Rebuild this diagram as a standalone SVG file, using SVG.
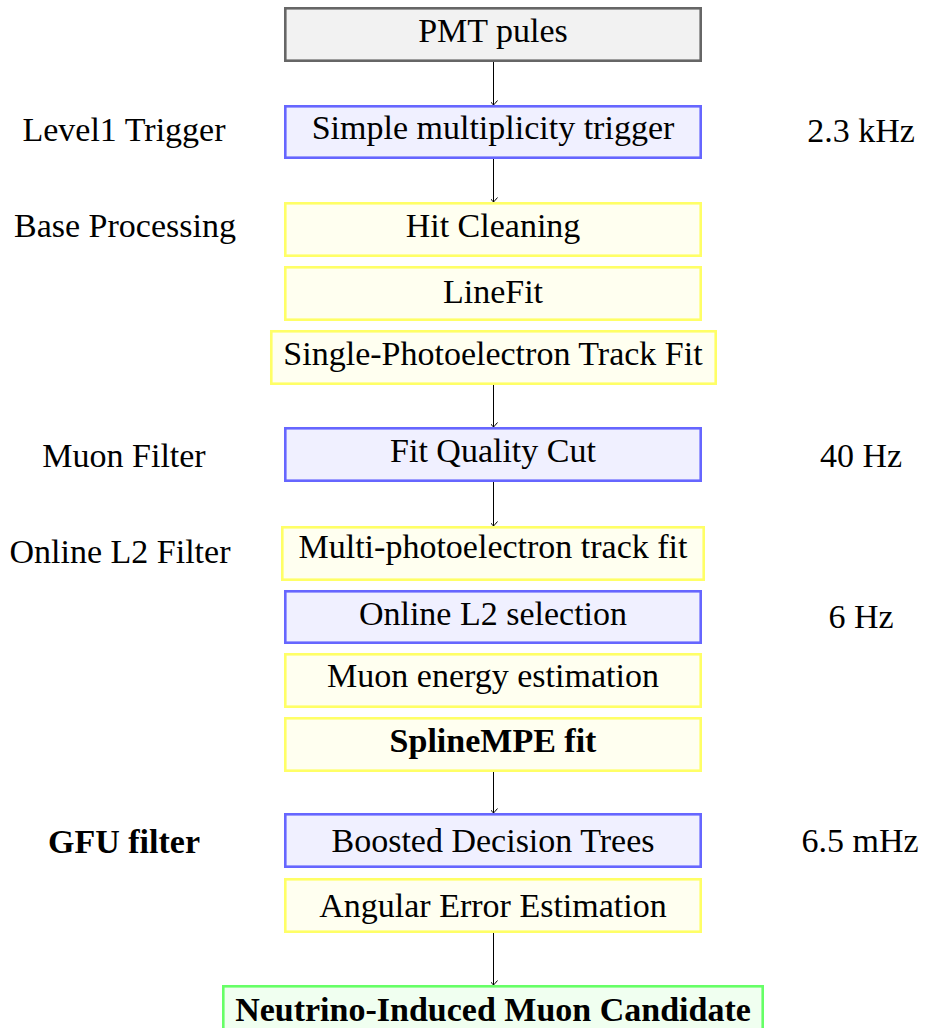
<svg xmlns="http://www.w3.org/2000/svg" width="925" height="1028" viewBox="0 0 925 1028">
<style>
text{font-family:"Liberation Serif","Times New Roman",serif;font-size:34px;fill:#000;text-anchor:middle}
.b{font-weight:bold}
rect{stroke-width:2.6}
.grey{fill:#f2f2f2;stroke:#666666}
.blue{fill:#f0f0ff;stroke:#6666ff}
.yel{fill:#fffff0;stroke:#ffff66}
.grn{fill:#f0fff0;stroke:#66ff66}
.conn line{stroke:#000;stroke-width:1;marker-end:url(#tip)}
</style>
<defs>
<marker id="tip" markerUnits="userSpaceOnUse" markerWidth="12" markerHeight="10" viewBox="-6 -6 12 8" refX="0" refY="0" orient="auto">
<path d="M-4.5,-4 Q-1.5,-1.5 0,0 Q-1.5,1.5 -4.5,4" fill="none" stroke="#000" stroke-width="1"/>
</marker>
</defs>
<rect width="925" height="1028" fill="#fff"/>
<g id="labels-left">
<text x="124" y="141">Level1 Trigger</text>
<text x="125" y="237">Base Processing</text>
<text x="124" y="467">Muon Filter</text>
<text x="120" y="563">Online L2 Filter</text>
<text x="124" y="853" class="b">GFU filter</text>
</g>
<g id="labels-right">
<text x="861" y="142">2.3 kHz</text>
<text x="861" y="467">40 Hz</text>
<text x="861" y="628">6 Hz</text>
<text x="860" y="852">6.5 mHz</text>
</g>
<g id="pmt"><rect class="grey" x="285.3" y="8.3" width="415.4" height="52.4"/><text x="493" y="42">PMT pules</text></g>
<g id="l1"><rect class="blue" x="285.3" y="106.3" width="415.4" height="51.4"/><text x="493" y="139">Simple multiplicity trigger</text></g>
<g id="hit"><rect class="yel" x="285.3" y="203.3" width="415.4" height="52.4"/><text x="493" y="237">Hit Cleaning</text></g>
<g id="linefit"><rect class="yel" x="285.3" y="267.3" width="415.4" height="52.4"/><text x="493" y="303">LineFit</text></g>
<g id="spe"><rect class="yel" x="271.3" y="331.3" width="444.4" height="52.4"/><text x="493" y="365">Single-Photoelectron Track Fit</text></g>
<g id="fqc"><rect class="blue" x="285.3" y="428.3" width="415.4" height="52.4"/><text x="493" y="462">Fit Quality Cut</text></g>
<g id="mpe"><rect class="yel" x="282.3" y="527.3" width="421.4" height="52.4"/><text x="493" y="558">Multi-photoelectron track fit</text></g>
<g id="l2sel"><rect class="blue" x="285.3" y="591.3" width="415.4" height="51.4"/><text x="493" y="625">Online L2 selection</text></g>
<g id="energy"><rect class="yel" x="285.3" y="654.3" width="415.4" height="52.4"/><text x="493" y="687">Muon energy estimation</text></g>
<g id="spline"><rect class="yel" x="285.3" y="718.3" width="415.4" height="52.4"/><text x="493" y="752" class="b">SplineMPE fit</text></g>
<g id="bdt"><rect class="blue" x="285.3" y="814.3" width="415.4" height="52.4"/><text x="493" y="852">Boosted Decision Trees</text></g>
<g id="angerr"><rect class="yel" x="285.3" y="879.3" width="415.4" height="52.4"/><text x="493" y="917">Angular Error Estimation</text></g>
<g id="cand"><rect class="grn" x="223.3" y="986.3" width="539.4" height="52.4"/><text x="493" y="1021" class="b">Neutrino-Induced Muon Candidate</text></g>
<g class="conn" id="connectors">
<line x1="493.5" y1="62" x2="493.5" y2="105"/>
<line x1="493.5" y1="159" x2="493.5" y2="202"/>
<line x1="493.5" y1="385" x2="493.5" y2="427"/>
<line x1="493.5" y1="482" x2="493.5" y2="526"/>
<line x1="493.5" y1="772" x2="493.5" y2="813"/>
<line x1="493.5" y1="933" x2="493.5" y2="985"/>
</g>
</svg>
